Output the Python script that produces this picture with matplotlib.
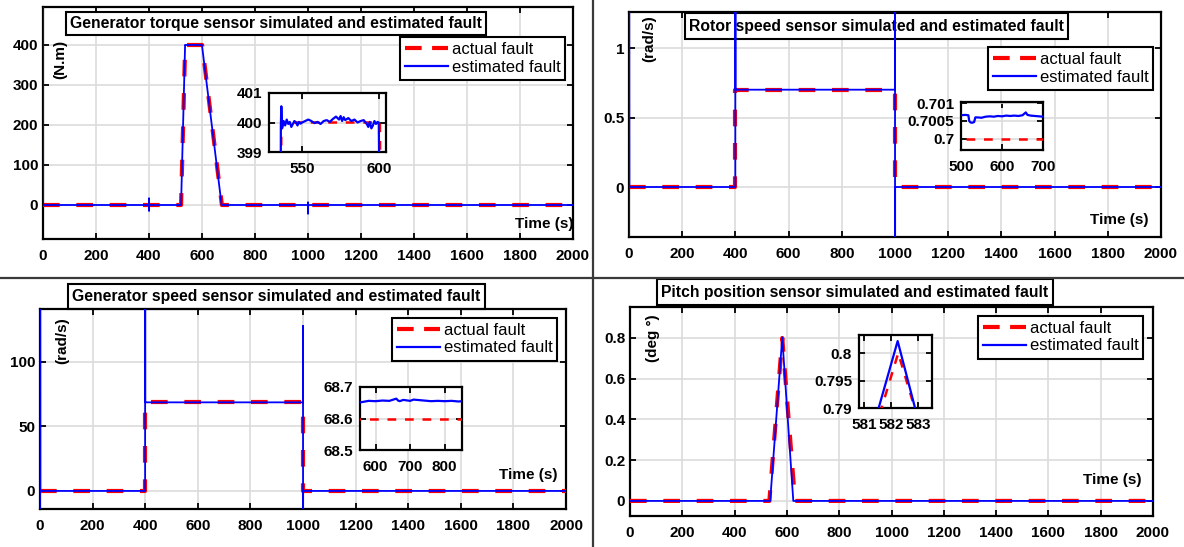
import matplotlib
matplotlib.use("Agg")
import matplotlib.pyplot as plt
from matplotlib.lines import Line2D
from matplotlib.patches import Rectangle
from matplotlib.ticker import FuncFormatter

plt.rcParams["font.family"] = ["Liberation Sans", "DejaVu Sans"]

W, H = 1184, 547

# -------------------------------
# Data
# -------------------------------
time_ticks = [0, 200, 400, 600, 800, 1000, 1200, 1400, 1600, 1800, 2000]

# generator torque sensor (N.m)
trq_t_act = [0, 521, 536.5, 600.5, 675, 2000]
trq_act = [0, 0, 400, 400, 0, 0]
trq_t_est = [0, 0.5, 399.6, 400, 400.3, 400.6, 521, 536.2,
             536.5, 537, 538, 539, 540, 541, 542, 543, 544, 545, 546, 547, 548, 549,
             550, 552, 554, 556, 558, 560, 562, 564, 566, 568, 570, 572, 574, 575,
             576, 577, 578, 580, 582, 584, 586, 588, 590, 592, 593, 594, 595, 596,
             597, 598, 599,
             599.8, 674, 999.6, 1000, 1000.3, 1000.6, 2000]
trq_est = [1000, 0, 0, 17, -15, 0, 0, 399.9,
           400.55, 399.8, 400.05, 399.9, 400.1, 399.95, 400.02, 399.85, 399.95, 400.05,
           400.0, 399.9, 400.02, 399.96, 400.0, 400.05, 400.1, 400.05, 399.98, 400.02,
           399.95, 400.05, 400.08, 400.02, 400.12, 400.2, 400.1, 400.22, 400.05, 400.18,
           400.08, 400.15, 400.05, 400.1, 400.0, 400.05, 400.08, 399.95, 399.85, 400.02,
           399.8, 399.9, 400.05, 399.95, 400.02,
           400.0, 0, 0, 7, -22, 0, 0]

# rotor speed sensor (rad/s)
rot_t_act = [0, 400, 400, 1000, 1000, 2000]
rot_act = [0, 0, 0.7, 0.7, 0, 0]
rot_t_est = [0, 0.4, 1.5, 399.7, 400, 400.4,
             401, 450, 500, 510, 518, 520, 523, 527, 532, 535, 540, 550, 560, 570,
             580, 590, 600, 610, 620, 630, 640, 650, 655, 658, 662, 670, 680, 690,
             700, 750, 800, 900, 999.7,
             1000, 1000.3, 1000.6, 1002, 2000]
rot_est = [-3, 3, 0, 0, 3, 0.7,
           0.70063, 0.70064, 0.70066, 0.70067, 0.70066, 0.70050, 0.70046, 0.70045,
           0.70047, 0.70060, 0.70060, 0.70059, 0.70062, 0.70063, 0.70062, 0.70064,
           0.70063, 0.70065, 0.70064, 0.70065, 0.70064, 0.70066, 0.70071, 0.70074,
           0.70067, 0.70065, 0.70064, 0.70063, 0.70062, 0.70063, 0.70064, 0.70063,
           0.70064,
           3, -3, 0, 0, 0]

# generator speed sensor (rad/s)
gen_t_act = [0, 400, 400, 1000, 1000, 2000]
gen_act = [0, 0, 68.6, 68.6, 0, 0]
gen_t_est = [0, 0.4, 1.5, 399.7, 400, 400.4,
             401, 450, 500, 550, 560, 580, 600, 620, 640, 660, 665, 670, 680, 700,
             710, 720, 740, 760, 780, 800, 820, 840, 850, 900, 999.7,
             1000, 1000.3, 1000.6, 1002, 2000]
gen_est = [-40, 400, 0, 0, 400, 68.66,
           68.655, 68.656, 68.655, 68.650, 68.652, 68.656, 68.655, 68.657, 68.656,
           68.663, 68.657, 68.655, 68.659, 68.656, 68.660, 68.659, 68.657, 68.655,
           68.656, 68.655, 68.656, 68.654, 68.655, 68.656, 68.655,
           128, -40, 0, 0, 0]

# pitch position sensor (deg)
pit_t_act = [0, 533, 582.25, 631, 2000]
pit_act = [0, 0, 0.8, 0, 0]
pit_t_est = [0, 536, 582.23, 624.5, 2000]
pit_est = [0, 0, 0.8022, 0, 0]

RED = "#ff0000"
BLUE = "#0000ff"
GRID = "#dcdcdc"

fig = plt.figure(figsize=(W / 100, H / 100), dpi=100)


def px_axes(l, t, r, b):
    return fig.add_axes([l / W, 1 - b / H, (r - l) / W, (b - t) / H])


def fmt(v, pos):
    return f"{v:g}"


def style(ax, lw=1.5, xpad=7.5, ypad=3.5):
    for s in ax.spines.values():
        s.set_linewidth(lw)
    ax.tick_params(direction="in", top=True, right=True, length=4, width=1.3,
                   labelsize=11, colors="black")
    ax.tick_params(axis="x", pad=xpad)
    ax.tick_params(axis="y", pad=ypad)
    for lab in ax.get_xticklabels() + ax.get_yticklabels():
        lab.set_fontweight("bold")
    ax.grid(True, color=GRID, lw=1.2)
    ax.set_axisbelow(True)
    ax.yaxis.set_major_formatter(FuncFormatter(fmt))
    ax.xaxis.set_major_formatter(FuncFormatter(fmt))


def main_panel(box, t_act, act, t_est, est, ylim, yticks, ylabel, ylab_xy,
               title, title_box, time_xy, leg_xy):
    ax = px_axes(*box)
    ax.plot(t_act, act, color=RED, lw=3, ls=(0, (4, 4)), zorder=3)
    ax.plot(t_est, est, color=BLUE, lw=1.3, zorder=4)
    ax.set_xlim(0, 2000)
    ax.set_ylim(*ylim)
    ax.set_xticks(time_ticks)
    ax.set_yticks(yticks)
    style(ax, lw=1.6)

    # boxed title (sits under the data lines like in the original)
    l, t, r, b = title_box
    ax.add_patch(Rectangle((l / W, 1 - b / H), (r - l) / W, (b - t) / H,
                           transform=fig.transFigure, fc="white", ec="black",
                           lw=1.5, clip_on=False, zorder=2))
    ax.text((l + r) / 2 / W, 1 - (t + b) / 2 / H, title, transform=fig.transFigure,
            ha="center", va="center", fontsize=11.3, fontweight="bold",
            clip_on=False, zorder=2.1)

    fig.text(ylab_xy[0] / W, 1 - ylab_xy[1] / H, ylabel, rotation=90,
             ha="center", va="center", fontsize=11, fontweight="bold")
    fig.text(time_xy[0] / W, 1 - time_xy[1] / H, "Time (s)",
             ha="center", va="center", fontsize=11, fontweight="bold")

    handles = [Line2D([], [], color=RED, lw=3, ls=(0, (4, 2.5))),
               Line2D([], [], color=BLUE, lw=1.6)]
    leg = ax.legend(handles, ["actual fault", "estimated fault"], loc="upper left",
                    bbox_to_anchor=(leg_xy[0] / W, 1 - leg_xy[1] / H),
                    bbox_transform=fig.transFigure, fancybox=False,
                    edgecolor="black", framealpha=1, borderaxespad=0,
                    borderpad=0.3, handlelength=2.6, handletextpad=0.2,
                    labelspacing=0.15, prop={"size": 12})
    leg.get_frame().set_linewidth(1.5)
    leg.set_zorder(6)
    return ax


def inset(box, t_act, act, t_est, est, xlim, ylim, xticks, yticks):
    ax = px_axes(*box)
    ax.plot(t_act, act, color=RED, lw=1.8, ls=(0, (3.5, 3.5)), zorder=3)
    ax.plot(t_est, est, color=BLUE, lw=1.6, zorder=4)
    ax.set_xlim(*xlim)
    ax.set_ylim(*ylim)
    ax.set_xticks(xticks)
    ax.set_yticks(yticks)
    style(ax, lw=1.6, xpad=7, ypad=5)
    ax.set_zorder(7)
    return ax


# -------------------------------
# Generator torque
# -------------------------------
main_panel((43, 7, 573, 239), trq_t_act, trq_act, trq_t_est, trq_est,
           (-85, 495), [0, 100, 200, 300, 400], "(N.m)", (60, 59),
           "Generator torque sensor simulated and estimated fault",
           (66, 12, 486, 35), (544, 224), (400, 37))
inset((269, 93, 386, 152), trq_t_act, trq_act, trq_t_est, trq_est,
      (528.5, 604.5), (399, 401), [550, 600], [399, 400, 401])

# -------------------------------
# Rotor speed
# -------------------------------
main_panel((629, 12, 1161, 237), rot_t_act, rot_act, rot_t_est, rot_est,
           (-0.36, 1.26), [0, 0.5, 1], "(rad/s)", (649, 39),
           "Rotor speed sensor simulated and estimated fault",
           (685, 13, 1068, 39), (1119, 220), (988, 47))
inset((961, 102, 1043, 150), rot_t_act, rot_act, rot_t_est, rot_est,
      (500, 700), (0.69969, 0.70103), [500, 600, 700], [0.7, 0.7005, 0.701])

# -------------------------------
# Generator speed
# -------------------------------
main_panel((40, 309, 566, 509), gen_t_act, gen_act, gen_t_est, gen_est,
           (-14, 141), [0, 50, 100], "(rad/s)", (62, 341),
           "Generator speed sensor simulated and estimated fault",
           (68, 284, 485, 309), (528, 475), (392, 318))
inset((360, 387, 462, 450), gen_t_act, gen_act, gen_t_est, gen_est,
      (555, 850), (68.5, 68.7), [600, 700, 800], [68.5, 68.6, 68.7])

# -------------------------------
# Pitch position
# -------------------------------
main_panel((630, 307, 1153, 516), pit_t_act, pit_act, pit_t_est, pit_est,
           (-0.074, 0.952), [0, 0.2, 0.4, 0.6, 0.8], "(deg °)", (653, 338),
           "Pitch position sensor simulated and estimated fault",
           (657, 279, 1053, 305), (1112, 480), (978, 316))
inset((859, 335, 932, 408), pit_t_act, pit_act, pit_t_est, pit_est,
      (580.8, 583.5), (0.79, 0.8033), [581, 582, 583], [0.79, 0.795, 0.8])

# separators between the four pictures
fig.add_artist(Line2D([593 / W, 593 / W], [0, 1], color="#3a3a3a", lw=1.6))
fig.add_artist(Line2D([0, 1], [1 - 278 / H, 1 - 278 / H], color="#3a3a3a", lw=1.6))

fig.savefig("out.png", dpi=100)
plt.close(fig)
